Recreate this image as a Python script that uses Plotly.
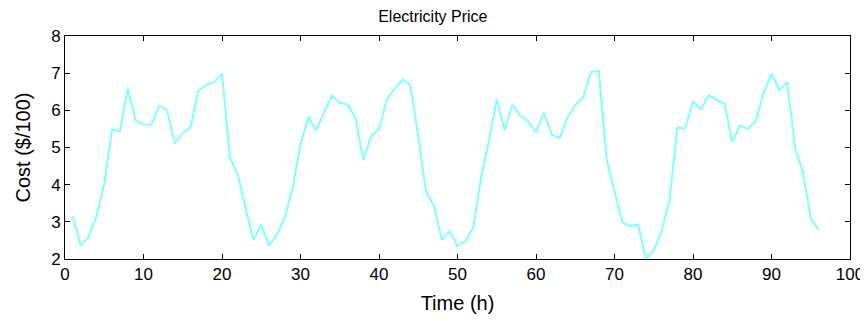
import plotly.graph_objects as go

hours = list(range(1, 97))
price = [
    3.15, 2.36, 2.59, 3.15, 4.03, 5.48, 5.44, 6.59, 5.73, 5.62,
    5.61, 6.13, 6.00, 5.11, 5.39, 5.55, 6.54, 6.68, 6.76, 6.99,
    4.74, 4.27, 3.38, 2.51, 2.92, 2.36, 2.66, 3.11, 3.91, 5.08,
    5.83, 5.46, 5.93, 6.40, 6.20, 6.16, 5.80, 4.66, 5.30, 5.50,
    6.29, 6.58, 6.83, 6.68, 5.30, 3.80, 3.44, 2.52, 2.75, 2.35,
    2.48, 2.84, 4.18, 5.17, 6.29, 5.47, 6.15, 5.86, 5.71, 5.41,
    5.93, 5.35, 5.25, 5.80, 6.14, 6.34, 7.03, 7.06, 4.68, 3.87,
    2.99, 2.88, 2.93, 2.00, 2.23, 2.75, 3.58, 5.53, 5.51, 6.25,
    6.02, 6.40, 6.28, 6.17, 5.15, 5.59, 5.50, 5.71, 6.47, 6.98,
    6.54, 6.76, 4.99, 4.34, 3.09, 2.79,
]
x_ticks = [0, 10, 20, 30, 40, 50, 60, 70, 80, 90, 100]
y_ticks = [2, 3, 4, 5, 6, 7, 8]

fig = go.Figure()
fig.add_trace(go.Scatter(x=hours, y=price, mode="lines",
                         line=dict(color="#80FFFF", width=2), showlegend=False))

font = "Liberation Sans, Arial, sans-serif"
axis_common = dict(showline=True, linecolor="black", linewidth=1, mirror="ticks",
                   ticks="inside", ticklen=5, tickcolor="black", tickwidth=1,
                   showgrid=False, zeroline=False, automargin=False,
                   tickfont=dict(family=font, size=17, color="black"))

fig.update_layout(
    width=860, height=313,
    margin=dict(l=57, r=18, t=28, b=62, autoexpand=False),
    paper_bgcolor="white", plot_bgcolor="white",
    title=dict(text="Electricity Price", x=0.494, xref="container", xanchor="center",
               y=0.974, yref="container", yanchor="middle",
               font=dict(family=font, size=16, color="black")),
    xaxis=dict(range=[0, 100], tickvals=x_ticks,
               title=dict(text="Time (h)", font=dict(family=font, size=20, color="black"),
                          standoff=12),
               **axis_common),
    yaxis=dict(range=[2, 8], tickvals=y_ticks,
               title=dict(text="Cost ($/100)", font=dict(family=font, size=20, color="black")),
               **axis_common),
)

fig.write_html("out.html")
